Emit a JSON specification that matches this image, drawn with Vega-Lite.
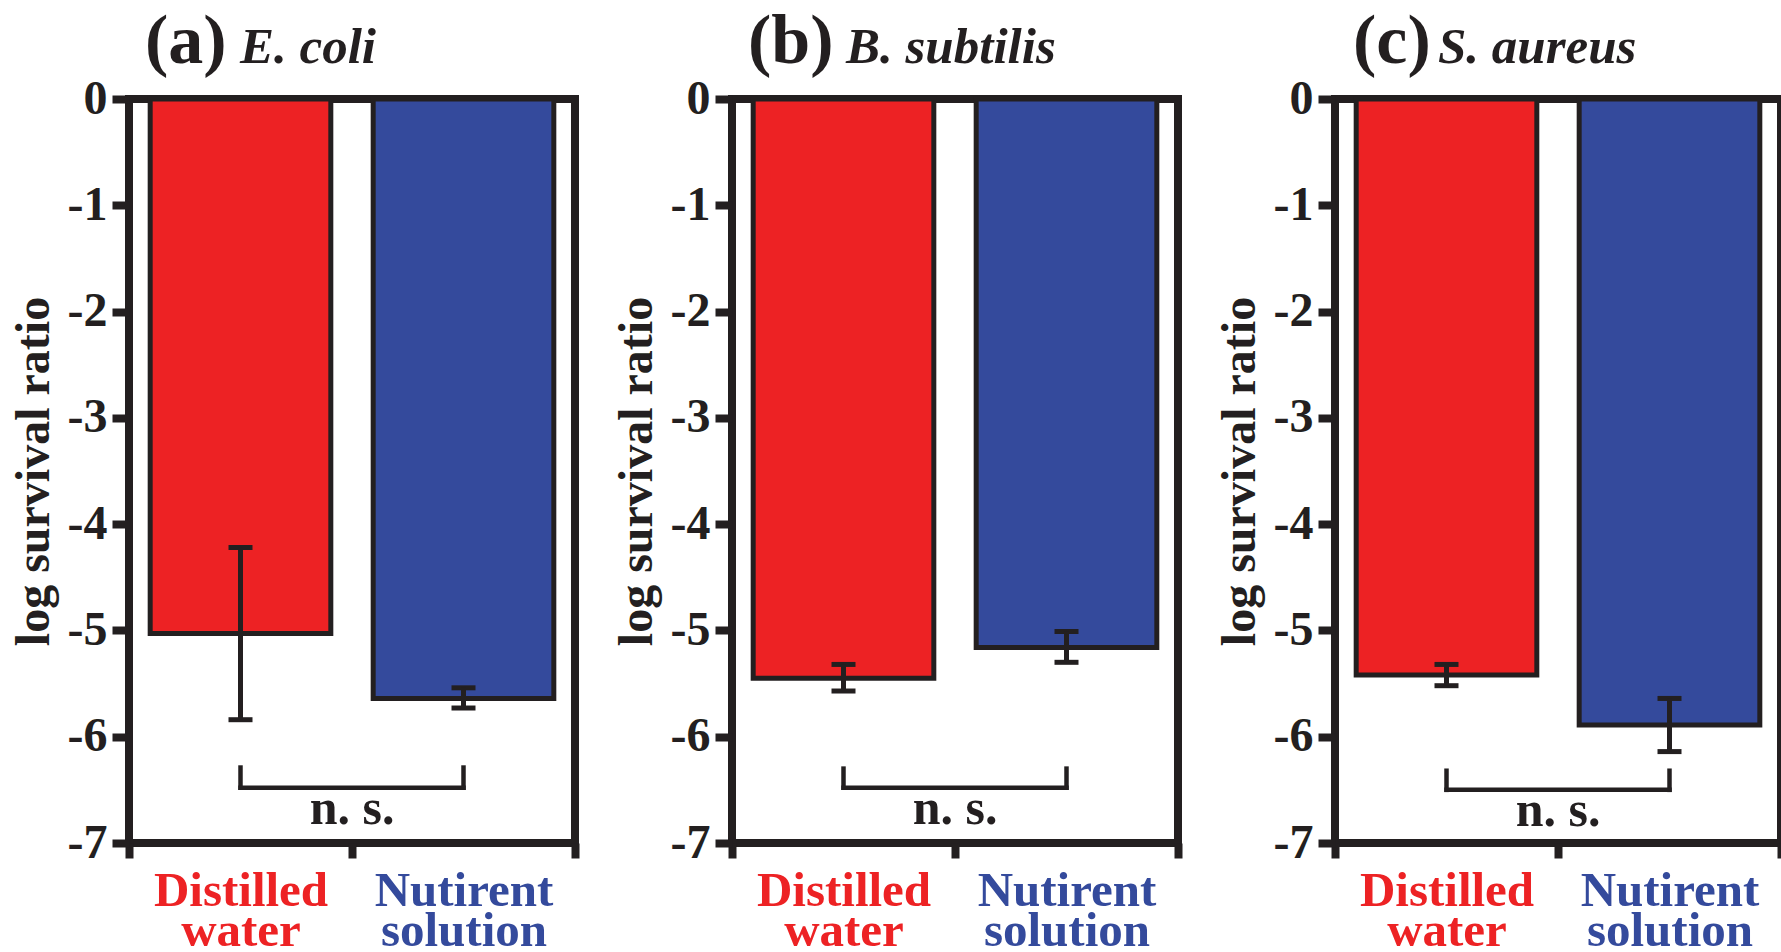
{
  "$schema": "https://vega.github.io/schema/vega-lite/v6.json",
  "background": "white",
  "padding": {"left": 6, "top": 3, "right": 0, "bottom": 0},
  "datasets": {
    "bars": [
      {"panel": "a", "condition": "Distilled water", "mean": -5.03, "lo": -5.84, "hi": -4.22},
      {"panel": "a", "condition": "Nutirent solution", "mean": -5.64, "lo": -5.73, "hi": -5.54},
      {"panel": "b", "condition": "Distilled water", "mean": -5.45, "lo": -5.57, "hi": -5.32},
      {"panel": "b", "condition": "Nutirent solution", "mean": -5.16, "lo": -5.30, "hi": -5.01},
      {"panel": "c", "condition": "Distilled water", "mean": -5.42, "lo": -5.52, "hi": -5.32},
      {"panel": "c", "condition": "Nutirent solution", "mean": -5.89, "lo": -6.14, "hi": -5.64}
    ],
    "panels": [
      {"panel": "a", "tag": "(a)", "species": "E. coli", "left": "Distilled water", "right": "Nutirent solution", "top": -6.29, "bottom": -6.48, "note": "n. s."},
      {"panel": "b", "tag": "(b)", "species": "B. subtilis", "left": "Distilled water", "right": "Nutirent solution", "top": -6.30, "bottom": -6.48, "note": "n. s."},
      {"panel": "c", "tag": "(c)", "species": "S. aureus", "left": "Distilled water", "right": "Nutirent solution", "top": -6.32, "bottom": -6.50, "note": "n. s."}
    ]
  },
  "hconcat": [
    {
      "width": 446, "height": 744,
      "layer": [
        {"data": {"name": "bars"}, "transform": [{"filter": "datum.panel == 'a'"}],
         "mark": {"type": "bar", "width": {"band": 0.81}, "stroke": "#231f20", "strokeWidth": 5},
         "encoding": {
           "x": {"field": "condition", "type": "nominal", "sort": null, "scale": {"domain": ["Distilled water", "Nutirent solution"], "paddingInner": 0, "paddingOuter": 0},
                 "axis": {"title": null, "labelColor": {"condition": {"test": "datum.value == 'Distilled water'", "value": "#ed2224"}, "value": "#344a9c"}}},
           "y": {"field": "mean", "type": "quantitative", "title": "log survival ratio", "scale": {"domain": [-7, 0], "nice": false, "zero": false}, "axis": {"title": "log survival ratio", "values": [0, -1, -2, -3, -4, -5, -6, -7]}},
           "fill": {"field": "condition", "type": "nominal", "scale": {"domain": ["Distilled water", "Nutirent solution"], "range": ["#ed2224", "#344a9c"]}, "legend": null}
         }},
        {"data": {"name": "bars"}, "transform": [{"filter": "datum.panel == 'a'"}],
         "mark": {"type": "errorbar", "ticks": {"size": 24, "thickness": 5, "color": "#231f20", "opacity": 1}, "rule": {"strokeWidth": 5, "color": "#231f20", "opacity": 1}},
         "encoding": {"x": {"field": "condition", "type": "nominal"}, "y": {"field": "lo", "type": "quantitative", "title": "log survival ratio"}, "y2": {"field": "hi"}}},
        {"data": {"name": "panels"}, "transform": [{"filter": "datum.panel == 'a'"}],
         "mark": {"type": "rule", "strokeWidth": 4.5, "color": "#231f20", "strokeCap": "square"},
         "encoding": {"x": {"field": "left", "type": "nominal"}, "y": {"field": "top", "type": "quantitative", "title": "log survival ratio"}, "y2": {"field": "bottom"}}},
        {"data": {"name": "panels"}, "transform": [{"filter": "datum.panel == 'a'"}],
         "mark": {"type": "rule", "strokeWidth": 4.5, "color": "#231f20", "strokeCap": "square"},
         "encoding": {"x": {"field": "right", "type": "nominal"}, "y": {"field": "top", "type": "quantitative", "title": "log survival ratio"}, "y2": {"field": "bottom"}}},
        {"data": {"name": "panels"}, "transform": [{"filter": "datum.panel == 'a'"}],
         "mark": {"type": "rule", "strokeWidth": 4.5, "color": "#231f20", "strokeCap": "square"},
         "encoding": {"x": {"field": "left", "type": "nominal"}, "x2": {"field": "right"}, "y": {"field": "bottom", "type": "quantitative", "title": "log survival ratio"}}},
        {"data": {"name": "panels"}, "transform": [{"filter": "datum.panel == 'a'"}],
         "mark": {"type": "text", "align": "center", "baseline": "alphabetic", "dy": 36, "font": "Liberation Serif", "fontWeight": "bold", "fontSize": 50, "color": "#231f20"},
         "encoding": {"x": {"field": "left", "type": "nominal", "bandPosition": 1}, "y": {"field": "bottom", "type": "quantitative", "title": "log survival ratio"}, "text": {"field": "note"}}},
        {"data": {"name": "panels"}, "transform": [{"filter": "datum.panel == 'a'"}],
         "mark": {"type": "text", "align": "left", "baseline": "alphabetic", "dx": 16, "dy": -36, "font": "Liberation Serif", "fontWeight": "bold", "fontSize": 70, "color": "#231f20"},
         "encoding": {"x": {"field": "left", "type": "nominal", "bandPosition": 0}, "y": {"datum": 0}, "text": {"field": "tag"}}},
        {"data": {"name": "panels"}, "transform": [{"filter": "datum.panel == 'a'"}],
         "mark": {"type": "text", "align": "left", "baseline": "alphabetic", "dx": 111, "dy": -36, "font": "Liberation Serif", "fontStyle": "italic", "fontWeight": "bold", "fontSize": 51, "color": "#231f20"},
         "encoding": {"x": {"field": "left", "type": "nominal", "bandPosition": 0}, "y": {"datum": 0}, "text": {"field": "species"}}}
      ]
    },
    {
      "width": 446, "height": 744,
      "layer": [
        {"data": {"name": "bars"}, "transform": [{"filter": "datum.panel == 'b'"}],
         "mark": {"type": "bar", "width": {"band": 0.81}, "stroke": "#231f20", "strokeWidth": 5},
         "encoding": {
           "x": {"field": "condition", "type": "nominal", "sort": null, "scale": {"domain": ["Distilled water", "Nutirent solution"], "paddingInner": 0, "paddingOuter": 0},
                 "axis": {"title": null, "labelColor": {"condition": {"test": "datum.value == 'Distilled water'", "value": "#ed2224"}, "value": "#344a9c"}}},
           "y": {"field": "mean", "type": "quantitative", "title": "log survival ratio", "scale": {"domain": [-7, 0], "nice": false, "zero": false}, "axis": {"title": "log survival ratio", "values": [0, -1, -2, -3, -4, -5, -6, -7]}},
           "fill": {"field": "condition", "type": "nominal", "scale": {"domain": ["Distilled water", "Nutirent solution"], "range": ["#ed2224", "#344a9c"]}, "legend": null}
         }},
        {"data": {"name": "bars"}, "transform": [{"filter": "datum.panel == 'b'"}],
         "mark": {"type": "errorbar", "ticks": {"size": 24, "thickness": 5, "color": "#231f20", "opacity": 1}, "rule": {"strokeWidth": 5, "color": "#231f20", "opacity": 1}},
         "encoding": {"x": {"field": "condition", "type": "nominal"}, "y": {"field": "lo", "type": "quantitative", "title": "log survival ratio"}, "y2": {"field": "hi"}}},
        {"data": {"name": "panels"}, "transform": [{"filter": "datum.panel == 'b'"}],
         "mark": {"type": "rule", "strokeWidth": 4.5, "color": "#231f20", "strokeCap": "square"},
         "encoding": {"x": {"field": "left", "type": "nominal"}, "y": {"field": "top", "type": "quantitative", "title": "log survival ratio"}, "y2": {"field": "bottom"}}},
        {"data": {"name": "panels"}, "transform": [{"filter": "datum.panel == 'b'"}],
         "mark": {"type": "rule", "strokeWidth": 4.5, "color": "#231f20", "strokeCap": "square"},
         "encoding": {"x": {"field": "right", "type": "nominal"}, "y": {"field": "top", "type": "quantitative", "title": "log survival ratio"}, "y2": {"field": "bottom"}}},
        {"data": {"name": "panels"}, "transform": [{"filter": "datum.panel == 'b'"}],
         "mark": {"type": "rule", "strokeWidth": 4.5, "color": "#231f20", "strokeCap": "square"},
         "encoding": {"x": {"field": "left", "type": "nominal"}, "x2": {"field": "right"}, "y": {"field": "bottom", "type": "quantitative", "title": "log survival ratio"}}},
        {"data": {"name": "panels"}, "transform": [{"filter": "datum.panel == 'b'"}],
         "mark": {"type": "text", "align": "center", "baseline": "alphabetic", "dy": 36, "font": "Liberation Serif", "fontWeight": "bold", "fontSize": 50, "color": "#231f20"},
         "encoding": {"x": {"field": "left", "type": "nominal", "bandPosition": 1}, "y": {"field": "bottom", "type": "quantitative", "title": "log survival ratio"}, "text": {"field": "note"}}},
        {"data": {"name": "panels"}, "transform": [{"filter": "datum.panel == 'b'"}],
         "mark": {"type": "text", "align": "left", "baseline": "alphabetic", "dx": 16, "dy": -36, "font": "Liberation Serif", "fontWeight": "bold", "fontSize": 70, "color": "#231f20"},
         "encoding": {"x": {"field": "left", "type": "nominal", "bandPosition": 0}, "y": {"datum": 0}, "text": {"field": "tag"}}},
        {"data": {"name": "panels"}, "transform": [{"filter": "datum.panel == 'b'"}],
         "mark": {"type": "text", "align": "left", "baseline": "alphabetic", "dx": 114, "dy": -36, "font": "Liberation Serif", "fontStyle": "italic", "fontWeight": "bold", "fontSize": 51, "color": "#231f20"},
         "encoding": {"x": {"field": "left", "type": "nominal", "bandPosition": 0}, "y": {"datum": 0}, "text": {"field": "species"}}}
      ]
    },
    {
      "width": 446, "height": 744,
      "layer": [
        {"data": {"name": "bars"}, "transform": [{"filter": "datum.panel == 'c'"}],
         "mark": {"type": "bar", "width": {"band": 0.81}, "stroke": "#231f20", "strokeWidth": 5},
         "encoding": {
           "x": {"field": "condition", "type": "nominal", "sort": null, "scale": {"domain": ["Distilled water", "Nutirent solution"], "paddingInner": 0, "paddingOuter": 0},
                 "axis": {"title": null, "labelColor": {"condition": {"test": "datum.value == 'Distilled water'", "value": "#ed2224"}, "value": "#344a9c"}}},
           "y": {"field": "mean", "type": "quantitative", "title": "log survival ratio", "scale": {"domain": [-7, 0], "nice": false, "zero": false}, "axis": {"title": "log survival ratio", "values": [0, -1, -2, -3, -4, -5, -6, -7]}},
           "fill": {"field": "condition", "type": "nominal", "scale": {"domain": ["Distilled water", "Nutirent solution"], "range": ["#ed2224", "#344a9c"]}, "legend": null}
         }},
        {"data": {"name": "bars"}, "transform": [{"filter": "datum.panel == 'c'"}],
         "mark": {"type": "errorbar", "ticks": {"size": 24, "thickness": 5, "color": "#231f20", "opacity": 1}, "rule": {"strokeWidth": 5, "color": "#231f20", "opacity": 1}},
         "encoding": {"x": {"field": "condition", "type": "nominal"}, "y": {"field": "lo", "type": "quantitative", "title": "log survival ratio"}, "y2": {"field": "hi"}}},
        {"data": {"name": "panels"}, "transform": [{"filter": "datum.panel == 'c'"}],
         "mark": {"type": "rule", "strokeWidth": 4.5, "color": "#231f20", "strokeCap": "square"},
         "encoding": {"x": {"field": "left", "type": "nominal"}, "y": {"field": "top", "type": "quantitative", "title": "log survival ratio"}, "y2": {"field": "bottom"}}},
        {"data": {"name": "panels"}, "transform": [{"filter": "datum.panel == 'c'"}],
         "mark": {"type": "rule", "strokeWidth": 4.5, "color": "#231f20", "strokeCap": "square"},
         "encoding": {"x": {"field": "right", "type": "nominal"}, "y": {"field": "top", "type": "quantitative", "title": "log survival ratio"}, "y2": {"field": "bottom"}}},
        {"data": {"name": "panels"}, "transform": [{"filter": "datum.panel == 'c'"}],
         "mark": {"type": "rule", "strokeWidth": 4.5, "color": "#231f20", "strokeCap": "square"},
         "encoding": {"x": {"field": "left", "type": "nominal"}, "x2": {"field": "right"}, "y": {"field": "bottom", "type": "quantitative", "title": "log survival ratio"}}},
        {"data": {"name": "panels"}, "transform": [{"filter": "datum.panel == 'c'"}],
         "mark": {"type": "text", "align": "center", "baseline": "alphabetic", "dy": 36, "font": "Liberation Serif", "fontWeight": "bold", "fontSize": 50, "color": "#231f20"},
         "encoding": {"x": {"field": "left", "type": "nominal", "bandPosition": 1}, "y": {"field": "bottom", "type": "quantitative", "title": "log survival ratio"}, "text": {"field": "note"}}},
        {"data": {"name": "panels"}, "transform": [{"filter": "datum.panel == 'c'"}],
         "mark": {"type": "text", "align": "left", "baseline": "alphabetic", "dx": 18, "dy": -36, "font": "Liberation Serif", "fontWeight": "bold", "fontSize": 70, "color": "#231f20"},
         "encoding": {"x": {"field": "left", "type": "nominal", "bandPosition": 0}, "y": {"datum": 0}, "text": {"field": "tag"}}},
        {"data": {"name": "panels"}, "transform": [{"filter": "datum.panel == 'c'"}],
         "mark": {"type": "text", "align": "left", "baseline": "alphabetic", "dx": 103, "dy": -36, "font": "Liberation Serif", "fontStyle": "italic", "fontWeight": "bold", "fontSize": 51, "color": "#231f20"},
         "encoding": {"x": {"field": "left", "type": "nominal", "bandPosition": 0}, "y": {"datum": 0}, "text": {"field": "species"}}}
      ]
    }
  ],
  "spacing": 157,
  "bounds": "flush",
  "config": {
    "view": {"stroke": "#231f20", "strokeWidth": 8},
    "axis": {
      "labelFont": "Liberation Serif", "labelFontWeight": "bold", "labelColor": "#231f20",
      "titleFont": "Liberation Serif", "titleFontWeight": "bold", "titleColor": "#231f20",
      "tickColor": "#231f20", "domain": false, "grid": false
    },
    "axisX": {
      "tickBand": "extent", "tickSize": 15, "tickWidth": 8, "labelAngle": 0,
      "labelFontSize": 49, "labelLineHeight": 40, "labelPadding": 8,
      "labelExpr": "split(datum.label, ' ')"
    },
    "axisY": {
      "tickSize": 17, "tickWidth": 8, "labelFontSize": 48, "labelPadding": 5,
      "labelExpr": "'' + datum.value",
      "titleFontSize": 48, "titlePadding": 9
    }
  }
}
